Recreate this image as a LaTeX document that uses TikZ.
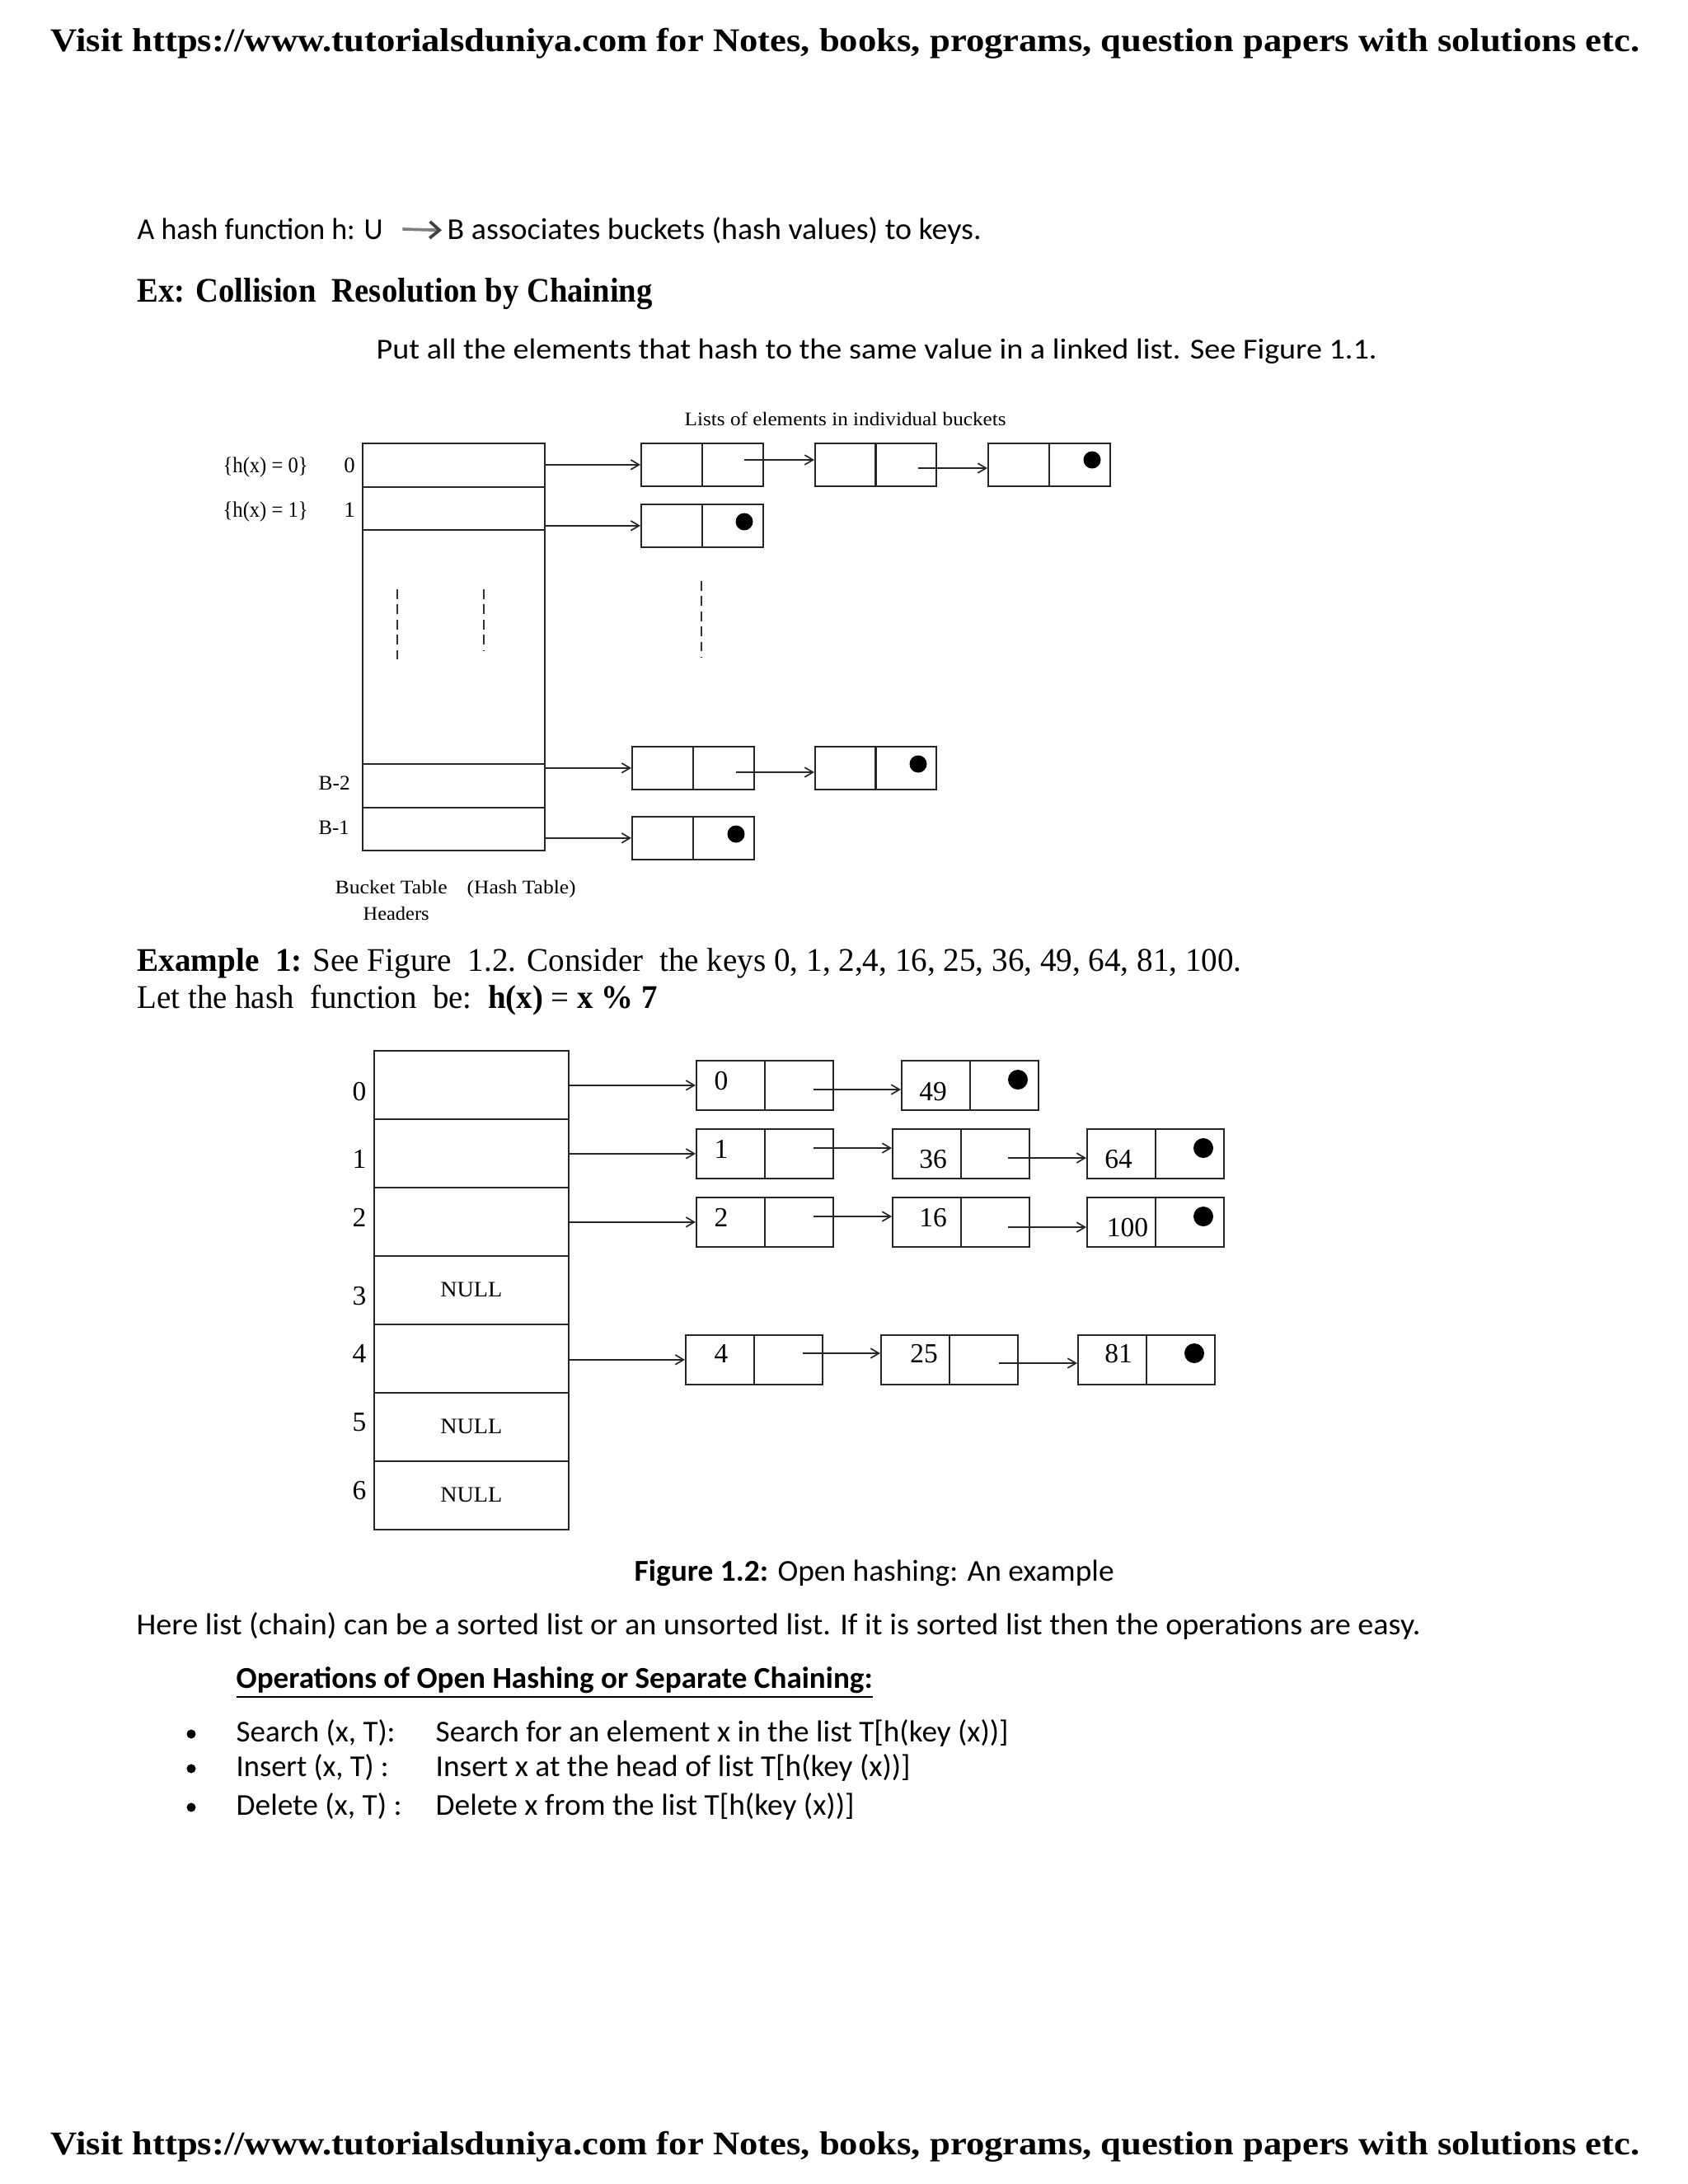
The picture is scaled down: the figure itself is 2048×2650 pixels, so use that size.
\documentclass[tikz,border=0pt]{standalone}
\usepackage{fontspec}
\setmainfont{Liberation Serif}
\newfontfamily\calfont{Carlito}
\usetikzlibrary{arrows.meta}
\newdimen\pxd \pxd=0.29883pt
\newcommand\fw[2]{\resizebox{#1\pxd}{\height}{#2}}
\begin{document}
\begin{tikzpicture}[x=0.29883pt,y=-0.29883pt,
  txt/.style={anchor=base west, inner sep=0pt},
  ctxt/.style={anchor=base, inner sep=0pt},
  cellA/.style={draw=black!85, line width=0.5pt, inner sep=0pt, anchor=north west, minimum width=74*\pxd, minimum height=52*\pxd},
  cellB/.style={draw=black!85, line width=0.5pt, inner sep=0pt, anchor=north west, minimum width=83*\pxd, minimum height=60*\pxd},
  rowA/.style={draw=black!85, line width=0.5pt, inner sep=0pt, anchor=north west, minimum width=221*\pxd, minimum height=#1*\pxd},
  rowB/.style={draw=black!85, line width=0.5pt, inner sep=0pt, anchor=north west, minimum width=236*\pxd, minimum height=83*\pxd, font=\fontsize{8}{9}\selectfont},
  dotA/.style={circle, fill=black, inner sep=0pt, minimum size=21*\pxd},
  dotB/.style={circle, fill=black, inner sep=0pt, minimum size=24*\pxd},
  bul/.style={circle, fill=black, inner sep=0pt, minimum size=11*\pxd},
  arr/.style={line width=0.5pt, draw=black!85, -{Straight Barb[length=3pt,width=3.5pt]}},
  dsh/.style={line width=0.5pt, draw=black!80, dash pattern=on 3.5pt off 2pt},
  hfont/.style={font=\fontsize{12}{14}\selectfont\bfseries},
  cfont/.style={font=\calfont\fontsize{11}{13}\selectfont},
  sfont/.style={font=\fontsize{7}{8}\selectfont},
  nfont/.style={font=\fontsize{10}{12}\selectfont}
]
\useasboundingbox (0,0) rectangle (2048,2650);
\fill[white] (0,0) rectangle (2048,2650);

% header / footer
\node[txt,hfont] (hd) at (61,62) {\fw{1928}{Visit https://www.tutorialsduniya.com for Notes, books, programs, question papers with solutions etc.}};
\node[txt,hfont] (ft) at (61,2614) {\fw{1928}{Visit https://www.tutorialsduniya.com for Notes, books, programs, question papers with solutions etc.}};

% intro
\node[txt,cfont] (ta) at (166,290) {\fw{298}{A hash function h: U}};
\node[txt,cfont] (tb) at (542,290) {\fw{648}{B associates buckets (hash values) to keys.}};
\draw[line width=1.1pt, black!50, shorten <=6.9pt, shorten >=1.8pt,
  -{Straight Barb[length=3.5pt,width=6pt,color=black!75]}] (ta.east) -- (tb.west);
\node[txt,font=\fontsize{12.5}{15}\selectfont\bfseries] (ex) at (166,366) {\fw{625}{Ex: Collision\ \ Resolution by Chaining}};
\node[txt,font=\calfont\fontsize{10.5}{12}\selectfont] (put) at (456,435) {\fw{1214}{Put all the elements that hash to the same value in a linked list. See Figure 1.1.}};

% ---------- Figure 1.1 ----------
\node[txt,sfont] (lst) at (830,516) {\fw{390}{Lists of elements in individual buckets}};
\node[txt,font=\fontsize{8}{9}\selectfont] (h0) at (270,573) {\fw{103}{\{h(x) = 0\}}};
\node[txt,font=\fontsize{8}{9}\selectfont] (h1) at (270,627) {\fw{103}{\{h(x) = 1\}}};
\node[ctxt,font=\fontsize{8}{9}\selectfont] (i0) at (424,573) {0};
\node[ctxt,font=\fontsize{8}{9}\selectfont] (i1) at (424,627) {1};
\node[txt,font=\fontsize{7.5}{9}\selectfont] (lb2) at (386,958) {\fw{38}{B-2}};
\node[txt,font=\fontsize{7.5}{9}\selectfont] (lb1) at (386,1012) {\fw{37}{B-1}};

\node[rowA=53] (t0) at (439,537) {};
\node[rowA=52] (t1) at (439,590) {};
\node[rowA=284] (tm) at (439,642) {};
\node[rowA=53] (tb2) at (439,926) {};
\node[rowA=52] (tb1) at (439,979) {};

\node[txt,sfont] (bt1) at (406,1084) {\fw{136}{Bucket Table}};
\node[txt,sfont] (bt2) at (566,1084) {\fw{132}{(Hash Table)}};
\node[txt,sfont] (bt3) at (440,1116) {\fw{80}{Headers}};

\draw[dsh] (482,715) -- (482,802);
\draw[dsh] (587,715) -- (587,790);
\draw[dsh] (851,705) -- (851,798);

\node[cellA] (n1k) at (777,537) {};
\node[cellA] (n1p) at (851,537) {};
\node[cellA] (n2k) at (988,537) {};
\node[cellA] (n2p) at (1061,537) {};
\node[cellA] (n3k) at (1198,537) {};
\node[cellA] (n3p) at (1272,537) {};
\node[dotA] (dn3) at (1325,558) {};
\node[cellA] (m1k) at (777,611) {};
\node[cellA] (m1p) at (851,611) {};
\node[dotA] (dm1) at (903,633) {};
\node[cellA] (b1k) at (766,905) {};
\node[cellA] (b1p) at (840,905) {};
\node[cellA] (b2k) at (988,905) {};
\node[cellA] (b2p) at (1061,905) {};
\node[dotA] (db2) at (1114,927) {};
\node[cellA] (c1k) at (766,990) {};
\node[cellA] (c1p) at (840,990) {};
\node[dotA] (dc1) at (893,1012) {};

\coordinate (s1) at (903,558);
\coordinate (s2) at (1114,568);
\coordinate (s3) at (893,937);
\draw[arr] (n1k.west -| t0.east) -- (n1k.west);
\draw[arr] (s1) -- (s1 -| n2k.west);
\draw[arr] (s2) -- (s2 -| n3k.west);
\draw[arr] (m1k.west -| t1.east) -- (m1k.west);
\draw[arr] (b1k.west -| tb2.east) -- (b1k.west);
\draw[arr] (s3) -- (s3 -| b2k.west);
\draw[arr] (c1k.west -| tb1.east) -- (c1k.west);

% ---------- Example 1 ----------
\node[txt,font=\fontsize{12}{14}\selectfont] (e1) at (166,1178) {\fw{1340}{\textbf{Example\ \ 1:} See Figure\ \ 1.2. Consider\ \ the keys 0, 1, 2,4, 16, 25, 36, 49, 64, 81, 100.}};
\node[txt,font=\fontsize{12}{14}\selectfont] (e2) at (166,1223) {\fw{631}{Let the hash\ \ function\ \ be:\ \ \textbf{h(x)} = \textbf{x \% 7}}};

% ---------- Figure 1.2 ----------
\node[rowB] (r0) at (453,1274) {};
\node[rowB] (r1) at (453,1357) {};
\node[rowB] (r2) at (453,1440) {};
\node[rowB] (r3) at (453,1523) {\fw{75}{NULL}};
\node[rowB] (r4) at (453,1606) {};
\node[rowB] (r5) at (453,1689) {\fw{75}{NULL}};
\node[rowB] (r6) at (453,1772) {\fw{75}{NULL}};

\node[ctxt,nfont] (j0) at (436,1335) {0};
\node[ctxt,nfont] (j1) at (436,1417) {1};
\node[ctxt,nfont] (j2) at (436,1488) {2};
\node[ctxt,nfont] (j3) at (436,1583) {3};
\node[ctxt,nfont] (j4) at (436,1653) {4};
\node[ctxt,nfont] (j5) at (436,1736) {5};
\node[ctxt,nfont] (j6) at (436,1819) {6};

% row 0
\node[cellB] (a1k) at (844,1286) {};
\node[cellB] (a1p) at (927,1286) {};
\node[cellB] (a2k) at (1093,1286) {};
\node[cellB] (a2p) at (1176,1286) {};
\node[dotB] (da2) at (1235,1310) {};
\node[ctxt,nfont] (va1) at (875,1322) {0};
\node[ctxt,nfont] (va2) at (1132,1335) {49};
% row 1
\node[cellB] (b1k2) at (844,1369) {};
\node[cellB] (b1p2) at (927,1369) {};
\node[cellB] (b2k2) at (1082,1369) {};
\node[cellB] (b2p2) at (1165,1369) {};
\node[cellB] (b3k2) at (1318,1369) {};
\node[cellB] (b3p2) at (1401,1369) {};
\node[dotB] (db3) at (1460,1393) {};
\node[ctxt,nfont] (vb1) at (875,1405) {1};
\node[ctxt,nfont] (vb2) at (1132,1417) {36};
\node[ctxt,nfont] (vb3) at (1357,1417) {64};
% row 2
\node[cellB] (c1k2) at (844,1452) {};
\node[cellB] (c1p2) at (927,1452) {};
\node[cellB] (c2k2) at (1082,1452) {};
\node[cellB] (c2p2) at (1165,1452) {};
\node[cellB] (c3k2) at (1318,1452) {};
\node[cellB] (c3p2) at (1401,1452) {};
\node[dotB] (dc3) at (1460,1476) {};
\node[ctxt,nfont] (vc1) at (875,1488) {2};
\node[ctxt,nfont] (vc2) at (1132,1488) {16};
\node[ctxt,nfont] (vc3) at (1368,1500) {100};
% row 4
\node[cellB] (d1k) at (831,1619) {};
\node[cellB] (d1p) at (914,1619) {};
\node[cellB] (d2k) at (1068,1619) {};
\node[cellB] (d2p) at (1151,1619) {};
\node[cellB] (d3k) at (1307,1619) {};
\node[cellB] (d3p) at (1390,1619) {};
\node[dotB] (dd3) at (1449,1642) {};
\node[ctxt,nfont] (vd1) at (875,1653) {4};
\node[ctxt,nfont] (vd2) at (1121,1653) {25};
\node[ctxt,nfont] (vd3) at (1357,1653) {81};

\coordinate (q1) at (987,1322);
\coordinate (q2) at (987,1393);
\coordinate (q3) at (1223,1405);
\coordinate (q4) at (987,1476);
\coordinate (q5) at (1223,1489);
\coordinate (q6) at (974,1642);
\coordinate (q7) at (1212,1654);
\draw[arr] (a1k.west -| r0.east) -- (a1k.west);
\draw[arr] (q1) -- (q1 -| a2k.west);
\draw[arr] (b1k2.west -| r1.east) -- (b1k2.west);
\draw[arr] (q2) -- (q2 -| b2k2.west);
\draw[arr] (q3) -- (q3 -| b3k2.west);
\draw[arr] (c1k2.west -| r2.east) -- (c1k2.west);
\draw[arr] (q4) -- (q4 -| c2k2.west);
\draw[arr] (q5) -- (q5 -| c3k2.west);
\draw[arr] (d1k.west -| r4.east) -- (d1k.west);
\draw[arr] (q6) -- (q6 -| d2k.west);
\draw[arr] (q7) -- (q7 -| d3k.west);

% ---------- bottom text ----------
\node[txt,cfont] (cap) at (769,1918) {\fw{582}{\textbf{Figure 1.2:} Open hashing: An example}};
\node[txt,cfont] (here) at (165,1983) {\fw{1558}{Here list (chain) can be a sorted list or an unsorted list. If it is sorted list then the operations are easy.}};
\node[txt,cfont] (ops) at (286,2048) {\fw{772}{\underline{\textbf{Operations of Open Hashing or Separate Chaining:}}}};

\node[bul] (bu1) at (232,2104) {};
\node[bul] (bu2) at (232,2146) {};
\node[bul] (bu3) at (232,2193) {};
\node[txt,cfont] (o1) at (286,2113) {\fw{193}{Search (x, T):}};
\node[txt,cfont] (o2) at (286,2155) {\fw{185}{Insert (x, T) :}};
\node[txt,cfont] (o3) at (286,2202) {\fw{201}{Delete (x, T) :}};
\node[txt,cfont] (d1) at (528,2113) {\fw{695}{Search for an element x in the list T[h(key (x))]}};
\node[txt,cfont] (d2) at (528,2155) {\fw{576}{Insert x at the head of list T[h(key (x))]}};
\node[txt,cfont] (d3) at (528,2202) {\fw{508}{Delete x from the list T[h(key (x))]}};
\end{tikzpicture}
\end{document}
